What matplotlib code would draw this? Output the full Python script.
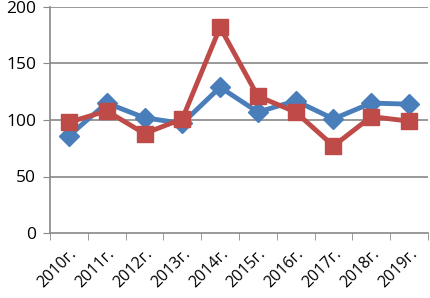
import matplotlib
matplotlib.use("Agg")
import matplotlib.pyplot as plt
import numpy as np

years = ["2010г.", "2011г.", "2012г.", "2013г.", "2014г.", "2015г.", "2016г.", "2017г.", "2018г.", "2019г."]
series_blue = [86, 115, 102, 97, 129, 107, 117, 101, 115, 114]
series_red = [98, 108, 88, 101, 182, 121, 107, 77, 103, 99]

plt.rcParams['font.family'] = ['Open Sans', 'DejaVu Sans']

fig = plt.figure(figsize=(4.31, 2.98), dpi=100)
ax = fig.add_axes([50/431, (298-233)/298, (428-50)/431, 226/298])

x = np.arange(len(years))
ax.plot(x, series_blue, color="#4A7EBB", lw=3.5, marker="D", ms=10, zorder=3)
ax.plot(x, series_red, color="#BE4B48", lw=3.5, marker="s", ms=11, zorder=4)

ax.set_ylim(0, 200)
ax.set_xlim(-0.5, len(years) - 0.5)
ax.set_yticks([0, 50, 100, 150, 200])
ax.tick_params(axis='y', labelsize=12.5, length=5, color="#888888", pad=5)
for y in [50, 100, 150, 200]:
    ax.axhline(y, color="#888888", lw=1.2, zorder=1)

ax.set_xticks(x)
ax.set_xticklabels(years, rotation=45, ha="right", rotation_mode="anchor", fontsize=11.5)
ax.tick_params(axis='x', which='major', length=0, pad=9)
ax.set_xticks(np.arange(-0.5, len(years)), minor=True)
ax.tick_params(axis='x', which='minor', length=5, color="#888888")

for s in ["top", "right"]:
    ax.spines[s].set_visible(False)
for s in ["left", "bottom"]:
    ax.spines[s].set_color("#888888")
    ax.spines[s].set_linewidth(1.2)

fig.savefig("out.png", dpi=100)
